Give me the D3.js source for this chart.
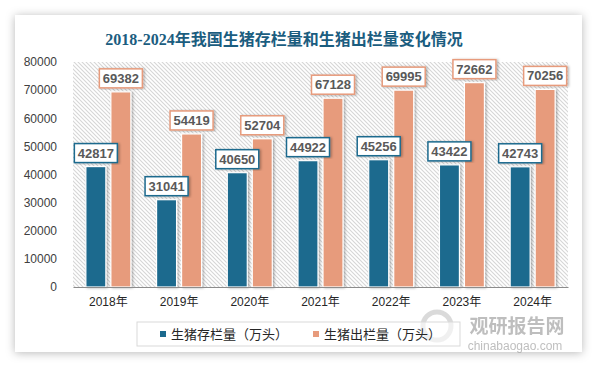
<!DOCTYPE html>
<html><head><meta charset="utf-8">
<script src="https://cdn.jsdelivr.net/npm/d3@7"></script>
<style>
html,body{margin:0;padding:0;background:#fff;}
svg{display:block;}
</style></head>
<body>
<svg id="c" width="594" height="366"></svg>
<script>
const categories = ["2018年","2019年","2020年","2021年","2022年","2023年","2024年"];
const stock = [42817,31041,40650,44922,45256,43422,42743];
const slaughter = [69382,54419,52704,67128,69995,72662,70256];
const seriesNames = ["生猪存栏量（万头）","生猪出栏量（万头）"];
const yTicks = [0,10000,20000,30000,40000,50000,60000,70000,80000];
const title = "2018-2024年我国生猪存栏量和生猪出栏量变化情况";
const colors = ["#1c6a8e","#e79b7c"];

(function(){
const svg = d3.select("#c");
const defs = svg.append("defs");
const sh = defs.append("filter").attr("id","cardShadow").attr("x","-10%").attr("y","-10%").attr("width","120%").attr("height","120%");
sh.append("feDropShadow").attr("dx",0).attr("dy",1).attr("stdDeviation",5).attr("flood-color","#000").attr("flood-opacity",0.28);
const bsh = defs.append("filter").attr("id","barShadow").attr("x","-30%").attr("y","-10%").attr("width","160%").attr("height","120%");
bsh.append("feDropShadow").attr("dx",1.5).attr("dy",0.5).attr("stdDeviation",1).attr("flood-color","#000").attr("flood-opacity",0.3);
const pat = defs.append("pattern").attr("id","hatch").attr("patternUnits","userSpaceOnUse").attr("width",4).attr("height",4);
pat.append("rect").attr("width",4).attr("height",4).attr("fill","#fff");
pat.append("path").attr("d","M-1,-1 L5,5 M-1,3 L1,5 M3,-1 L5,1").attr("stroke","#d6d6d6").attr("stroke-width",1.1);

// card
svg.append("rect").attr("x",15).attr("y",15).attr("width",567).attr("height",337).attr("fill","#fff").attr("filter","url(#cardShadow)");

// title
svg.append("text").attr("x",284).attr("y",45).attr("text-anchor","middle")
  .attr("font-family","'Liberation Serif','Noto Sans CJK SC',serif").attr("font-weight","bold")
  .attr("font-size",16).attr("fill","#1b5d7f").text(title);

const pL=73,pR=568,pT=62,pB=287;
const x = d3.scaleBand().domain(categories).range([pL,pR]);
const y = d3.scaleLinear().domain([0,80000]).range([pB,pT]);

svg.append("rect").attr("x",pL).attr("y",pT).attr("width",pR-pL).attr("height",pB-pT).attr("fill","url(#hatch)");

// y axis
const ya = svg.append("g").attr("transform",`translate(${pL},0)`)
  .call(d3.axisLeft(y).tickValues(yTicks).tickSize(0).tickPadding(16).tickFormat(d3.format("d")));
ya.select(".domain").remove();
ya.selectAll("text").attr("font-family","'Liberation Sans',sans-serif").attr("font-size",12).attr("fill","#404040");

// bars
const barW = 20, gap = 5;
const groups = svg.append("g");
const data = categories.map((c,i)=>({c, v:[stock[i],slaughter[i]]}));
data.forEach(d=>{
  const cx = x(d.c)+x.bandwidth()/2;
  d.v.forEach((v,j)=>{
    const bx = j===0 ? cx-gap/2-barW : cx+gap/2;
    groups.append("rect").attr("x",bx).attr("y",y(v)).attr("width",barW).attr("height",y(0)-y(v))
      .attr("fill",colors[j]).attr("stroke","#fff").attr("stroke-width",1.2).attr("filter","url(#barShadow)");
  });
});

// x axis
const xa = svg.append("g").attr("transform",`translate(0,${pB})`)
  .call(d3.axisBottom(x).tickSize(0).tickPadding(10));
xa.select(".domain").attr("stroke","#8c8c8c").attr("stroke-width",1.2);
xa.selectAll("text").attr("font-family","'Liberation Sans','Noto Sans CJK SC',sans-serif").attr("font-size",12).attr("fill","#262626");

// data labels
const lg = svg.append("g");
data.forEach(d=>{
  const cx = x(d.c)+x.bandwidth()/2;
  d.v.forEach((v,j)=>{
    const bxc = j===0 ? cx-gap/2-barW/2 : cx+gap/2+barW/2;
    const bw=43,bh=19;
    const by = y(v)-4-bh;
    lg.append("rect").attr("x",bxc-bw/2).attr("y",by).attr("width",bw).attr("height",bh)
      .attr("fill","#fff").attr("stroke",colors[j]).attr("stroke-width",1.5).attr("filter","url(#barShadow)");
    lg.append("text").attr("x",bxc).attr("y",by+bh/2+4.5).attr("text-anchor","middle")
      .attr("font-family","'Liberation Sans',sans-serif").attr("font-weight","bold").attr("font-size",13)
      .attr("fill","#595959").text(v);
  });
});

// watermark
const wm = svg.append("g").attr("opacity",0.55);
wm.append("circle").attr("cx",437).attr("cy",326).attr("r",14).attr("fill","none").attr("stroke","#bdbdbd").attr("stroke-width",5);
wm.append("text").attr("x",517).attr("y",333).attr("text-anchor","middle").attr("font-family","'Noto Sans CJK SC',sans-serif")
  .attr("font-weight","bold").attr("font-size",19).attr("fill","#8a8a8a").text("观研报告网");
wm.append("text").attr("x",515).attr("y",350).attr("text-anchor","middle").attr("font-family","'Liberation Sans',sans-serif")
  .attr("font-size",12).attr("fill","#8a8a8a").text("chinabaogao.com");

// legend
const leg = svg.append("g");
leg.append("rect").attr("x",137).attr("y",322).attr("width",323).attr("height",24).attr("fill","#fff").attr("fill-opacity",0.6).attr("stroke","#d9d9d9").attr("stroke-width",1);
const lx = [160,313];
seriesNames.forEach((n,j)=>{
  leg.append("rect").attr("x",lx[j]).attr("y",331).attr("width",6).attr("height",6).attr("fill",colors[j]);
  leg.append("text").attr("x",lx[j]+11).attr("y",339).attr("font-family","'Noto Sans CJK SC',sans-serif")
    .attr("font-size",13).attr("letter-spacing",0).attr("fill","#262626").text(n);
});
})();
</script>
</body></html>
